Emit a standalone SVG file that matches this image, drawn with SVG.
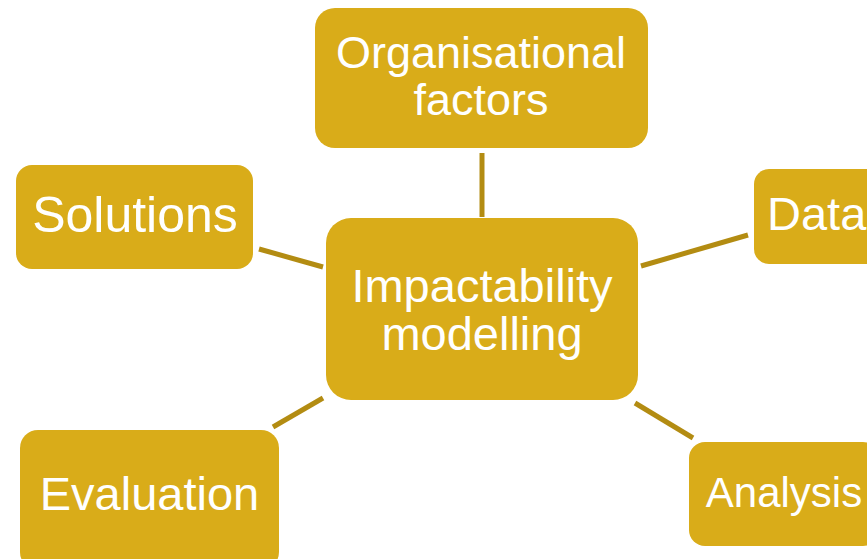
<svg xmlns="http://www.w3.org/2000/svg" width="867" height="559" viewBox="0 0 867 559">
<style>
.box{fill:#D9AC19;}
.t{fill:#FFFFFF;font-family:"Liberation Sans",Arial,sans-serif;text-anchor:middle;}
.e{stroke:#B38C12;stroke-width:5;fill:none;}
</style>
<rect width="867" height="559" fill="#FFFFFF"/>
<g id="connectors">
<line class="e" x1="482" y1="153" x2="482" y2="217"/>
<line class="e" x1="641" y1="266" x2="748" y2="235"/>
<line class="e" x1="635" y1="403" x2="693" y2="438"/>
<line class="e" x1="273" y1="427" x2="323" y2="398"/>
<line class="e" x1="259" y1="249" x2="323" y2="267"/>
</g>
<g id="organisational">
<rect class="box" x="315" y="8" width="333" height="140" rx="20"/>
<text class="t" x="481" y="68" font-size="45">Organisational</text>
<text class="t" x="481" y="115" font-size="45">factors</text>
</g>
<g id="impactability">
<rect class="box" x="326" y="218" width="312" height="182" rx="25"/>
<text class="t" x="482" y="302" font-size="47">Impactability</text>
<text class="t" x="482" y="350" font-size="47">modelling</text>
</g>
<g id="data">
<rect class="box" x="754" y="169" width="150" height="95" rx="15"/>
<text class="t" x="767" y="230" font-size="47" style="text-anchor:start">Data</text>
</g>
<g id="analysis">
<rect class="box" x="689" y="442" width="190" height="104" rx="16"/>
<text class="t" x="784" y="507" font-size="42">Analysis</text>
</g>
<g id="evaluation">
<rect class="box" x="20" y="430" width="259" height="140" rx="18"/>
<text class="t" x="149.5" y="510" font-size="47">Evaluation</text>
</g>
<g id="solutions">
<rect class="box" x="16" y="165" width="237" height="104" rx="16"/>
<text class="t" x="135" y="232" font-size="50">Solutions</text>
</g>
</svg>
